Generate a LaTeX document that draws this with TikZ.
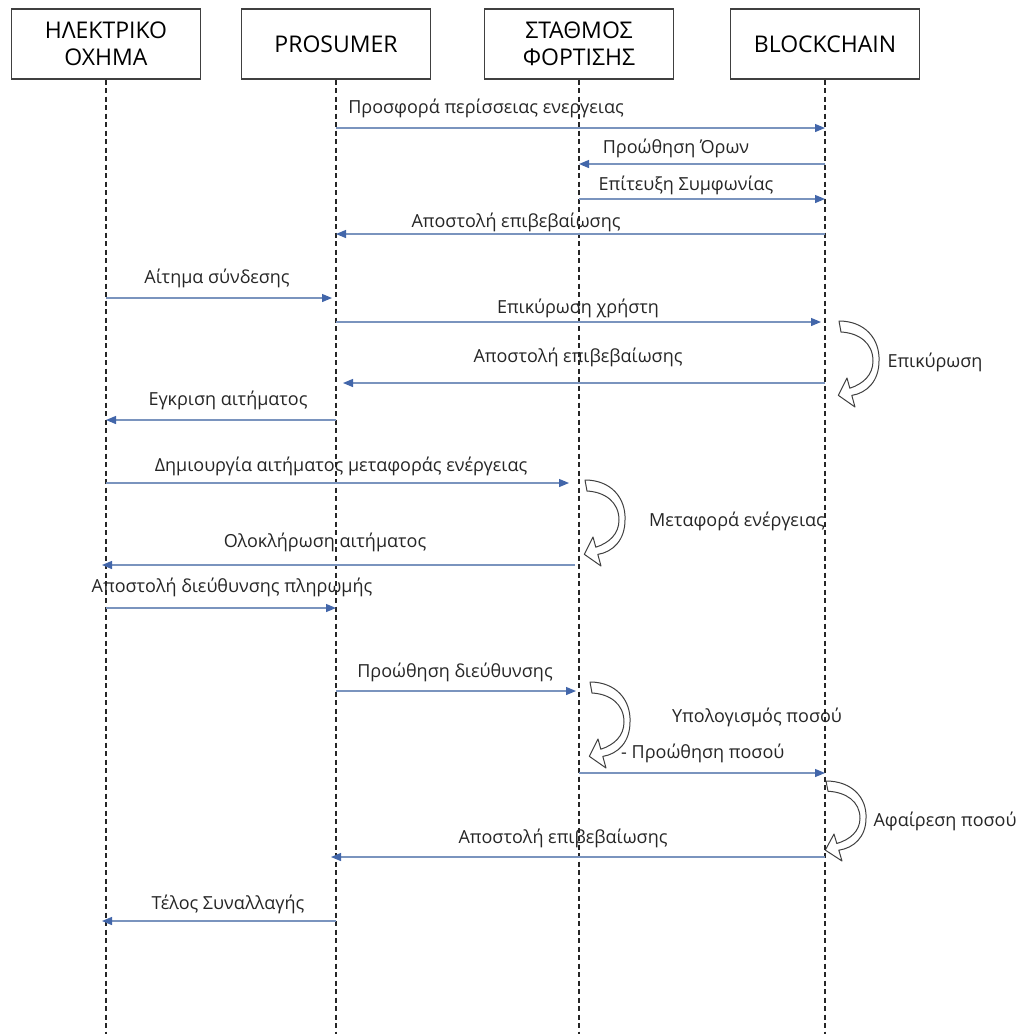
\documentclass[tikz,border=0pt]{standalone}
\usepackage{fontspec}
\setmainfont{Open Sans}
\usetikzlibrary{arrows.meta}

\definecolor{msgline}{RGB}{122,148,190}
\definecolor{msghead}{RGB}{66,102,170}
\definecolor{ink}{RGB}{38,38,38}

\tikzset{
  actor/.style={draw=black!75, line width=1.2pt, minimum width=189pt,
    minimum height=70pt, align=center, inner sep=0pt,
    font=\fontsize{23}{27}\selectfont},
  lifeline/.style={draw=black!85, line width=1.1pt, dash pattern=on 5pt off 3.5pt},
  msg/.style={draw=msgline, line width=1.2pt,
    -{Triangle[length=10pt,width=8pt,color=msghead]}},
  lbl/.style={font=\fontsize{18}{20}\selectfont, text=ink, inner sep=0pt},
  loopshape/.style={draw=black!75, line width=1pt, fill=white, line join=round},
  selfloop/.pic={
    \path[loopshape] (0,0) .. controls (26,0) and (41,18) .. (40,40)
      .. controls (40,60) and (28,72) .. (12.8,74.4) -- (16,86) -- (-0.7,74.3)
      -- (8,57) -- (10.8,67.2) .. controls (24,63) and (34,54) .. (34,40)
      .. controls (34,22) and (20,12) .. (2,11) -- cycle;
  }
}

\begin{document}
\begin{tikzpicture}[x=1pt, y=-1pt]
\useasboundingbox[fill=white] (0,0) rectangle (1026,1034);

% participants
\node[actor] (ev) at (106,44) {ΗΛΕΚΤΡΙΚΟ\\ΟΧΗΜΑ};
\node[actor] (pr) at (336,44) {PROSUMER};
\node[actor] (st) at (579,44) {ΣΤΑΘΜΟΣ\\ΦΟΡΤΙΣΗΣ};
\node[actor] (bc) at (825,44) {BLOCKCHAIN};
\coordinate (bottom) at (0,1034);

% self actions (curved block arrows)
\pic at ([xshift=14pt]bc.south |- 0,321) {selfloop};
\pic at ([xshift=6pt]st.south |- 0,480) {selfloop};
\pic at ([xshift=11pt]st.south |- 0,682) {selfloop};
\pic[yscale=0.93] at ([xshift=1pt]bc.south |- 0,781) {selfloop};

% lifelines
\foreach \p in {ev,pr,st,bc}
  \draw[lifeline] (\p.south) -- (\p.south |- bottom);

% messages
\draw[msg] (pr.south |- 0,128) -- (bc.south |- 0,128);
\draw[msg] (bc.south |- 0,164) -- (st.south |- 0,164);
\draw[msg] (st.south |- 0,199) -- (bc.south |- 0,199);
\draw[msg] (bc.south |- 0,234) -- (pr.south |- 0,234);
\draw[msg, shorten >=4pt] (ev.south |- 0,298) -- (pr.south |- 0,298);
\draw[msg, shorten >=4pt] (pr.south |- 0,322) -- (bc.south |- 0,322);
\draw[msg, shorten >=7pt] (bc.south |- 0,383) -- (pr.south |- 0,383);
\draw[msg] (pr.south |- 0,420) -- (ev.south |- 0,420);
\draw[msg, shorten >=10pt] (ev.south |- 0,483) -- (st.south |- 0,483);
\draw[msg, shorten <=4pt, shorten >=-4pt] (st.south |- 0,565) -- (ev.south |- 0,565);
\draw[msg] (ev.south |- 0,608) -- (pr.south |- 0,608);
\draw[msg, shorten >=3pt] (pr.south |- 0,691) -- (st.south |- 0,691);
\draw[msg] (st.south |- 0,773) -- (bc.south |- 0,773);
\draw[msg, shorten >=-5pt] (bc.south |- 0,857) -- (pr.south |- 0,857);
\draw[msg, shorten >=-4pt] (pr.south |- 0,921) -- (ev.south |- 0,921);

% message labels
\node[lbl] (l1)  at (486,108) {Προσφορά περίσσειας ενεργειας};
\node[lbl] (l2)  at (676,148) {Προώθηση Όρων};
\node[lbl] (l3)  at (686,185) {Επίτευξη Συμφωνίας};
\node[lbl] (l4)  at (516,222) {Αποστολή επιβεβαίωσης};
\node[lbl] (l5)  at (217,278) {Αίτημα σύνδεσης};
\node[lbl] (l6)  at (578,308) {Επικύρωση χρήστη};
\node[lbl] (l7)  at (578,357) {Αποστολή επιβεβαίωσης};
\node[lbl] (l8)  at (228,400) {Εγκριση αιτήματος};
\node[lbl] (l9)  at (341,466) {Δημιουργία αιτήματος μεταφοράς ενέργειας};
\node[lbl] (l10) at (325,542) {Ολοκλήρωση αιτήματος};
\node[lbl] (l11) at (232,587) {Αποστολή διεύθυνσης πληρωμής};
\node[lbl] (l12) at (455,672) {Προώθηση διεύθυνσης};
\node[lbl, anchor=west] (l13) at (621,753) {- Προώθηση ποσού};
\node[lbl] (l14) at (563,838) {Αποστολή επιβεβαίωσης};
\node[lbl] (l15) at (228,904) {Τέλος Συναλλαγής};

% self action labels
\node[lbl] (a1) at (935,362) {Επικύρωση};
\node[lbl] (a2) at (737,521) {Μεταφορά ενέργειας};
\node[lbl] (a3) at (757,717) {Υπολογισμός ποσού};
\node[lbl] (a4) at (945,821) {Αφαίρεση ποσού};
\end{tikzpicture}
\end{document}
